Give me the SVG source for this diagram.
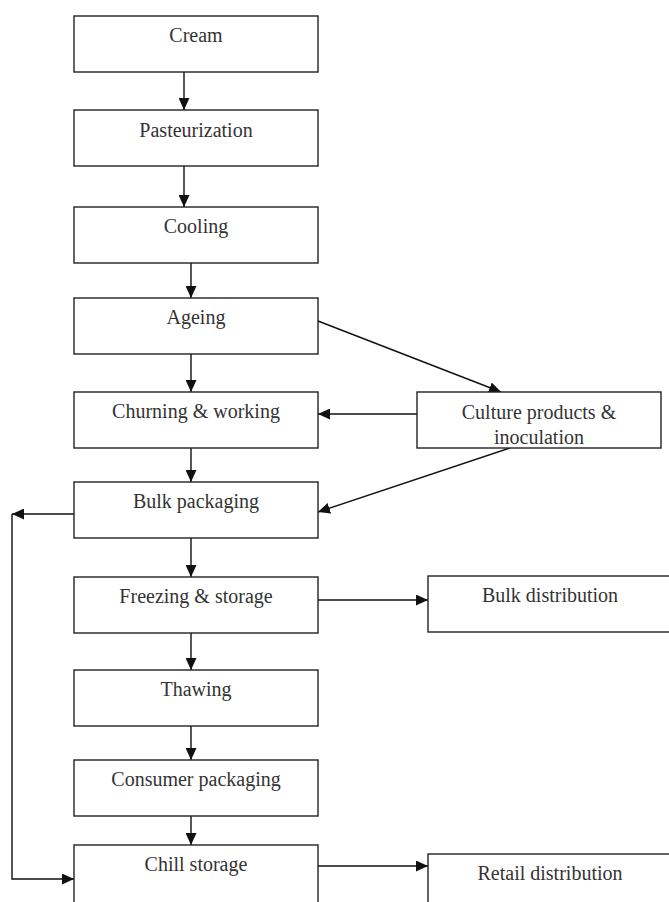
<svg xmlns="http://www.w3.org/2000/svg" width="669" height="902" viewBox="0 0 669 902">
  <defs>
    <marker id="arrow" markerUnits="userSpaceOnUse" markerWidth="12" markerHeight="11" refX="12" refY="5.5" orient="auto">
      <path d="M0,0 L12,5.5 L0,11 z" fill="#111"/>
    </marker>
    <style>
      .box { fill: #fff; stroke: #222; stroke-width: 1.4; }
      .lbl { font-family: "Liberation Serif", "Times New Roman", serif; font-size: 20px; fill: #333; text-anchor: middle; }
      .edge { fill: none; stroke: #111; stroke-width: 1.4; }
      .arr { marker-end: url(#arrow); }
    </style>
  </defs>
  <rect width="669" height="902" fill="#fff"/>

  <!-- connectors -->
  <g id="connectors">
    <line class="edge arr" x1="184" y1="72" x2="184" y2="110"/>
    <line class="edge arr" x1="184" y1="166" x2="184" y2="207"/>
    <line class="edge arr" x1="191" y1="263" x2="191" y2="298"/>
    <line class="edge arr" x1="191" y1="354" x2="191" y2="392"/>
    <line class="edge arr" x1="191" y1="448" x2="191" y2="482"/>
    <line class="edge arr" x1="191" y1="538" x2="191" y2="577"/>
    <line class="edge arr" x1="191" y1="633" x2="191" y2="670"/>
    <line class="edge arr" x1="191" y1="726" x2="191" y2="760"/>
    <line class="edge arr" x1="191" y1="816" x2="191" y2="845"/>
    <!-- ageing to culture, culture back into churning and bulk packaging -->
    <line class="edge arr" x1="318" y1="321" x2="501" y2="392"/>
    <line class="edge arr" x1="417" y1="414" x2="318" y2="414"/>
    <line class="edge arr" x1="510" y1="448" x2="318" y2="512"/>
    <!-- side outputs -->
    <line class="edge arr" x1="318" y1="600" x2="428" y2="600"/>
    <line class="edge arr" x1="318" y1="866" x2="428" y2="866"/>
    <!-- bypass loop from bulk packaging to chill storage -->
    <line class="edge arr" x1="74" y1="514" x2="12" y2="514"/>
    <polyline class="edge arr" points="12,514 12,879 74,879"/>
  </g>

  <g id="cream"><rect class="box" x="74" y="16" width="244" height="56"/><text class="lbl" x="196" y="42">Cream</text></g>
  <g id="pasteurization"><rect class="box" x="74" y="110" width="244" height="56"/><text class="lbl" x="196" y="137">Pasteurization</text></g>
  <g id="cooling"><rect class="box" x="74" y="207" width="244" height="56"/><text class="lbl" x="196" y="233">Cooling</text></g>
  <g id="ageing"><rect class="box" x="74" y="298" width="244" height="56"/><text class="lbl" x="196" y="324">Ageing</text></g>
  <g id="churning"><rect class="box" x="74" y="392" width="244" height="56"/><text class="lbl" x="196" y="418">Churning &amp; working</text></g>
  <g id="culture"><rect class="box" x="417" y="392" width="244" height="56"/><text class="lbl" x="539" y="419">Culture products &amp;</text><text class="lbl" x="539" y="444">inoculation</text></g>
  <g id="bulk-packaging"><rect class="box" x="74" y="482" width="244" height="56"/><text class="lbl" x="196" y="508">Bulk packaging</text></g>
  <g id="freezing"><rect class="box" x="74" y="577" width="244" height="56"/><text class="lbl" x="196" y="603">Freezing &amp; storage</text></g>
  <g id="bulk-distribution"><rect class="box" x="428" y="576" width="244" height="56"/><text class="lbl" x="550" y="602">Bulk distribution</text></g>
  <g id="thawing"><rect class="box" x="74" y="670" width="244" height="56"/><text class="lbl" x="196" y="696">Thawing</text></g>
  <g id="consumer-packaging"><rect class="box" x="74" y="760" width="244" height="56"/><text class="lbl" x="196" y="786">Consumer packaging</text></g>
  <g id="chill-storage"><rect class="box" x="74" y="845" width="244" height="60"/><text class="lbl" x="196" y="871">Chill storage</text></g>
  <g id="retail-distribution"><rect class="box" x="428" y="854" width="244" height="60"/><text class="lbl" x="550" y="880">Retail distribution</text></g>
</svg>
